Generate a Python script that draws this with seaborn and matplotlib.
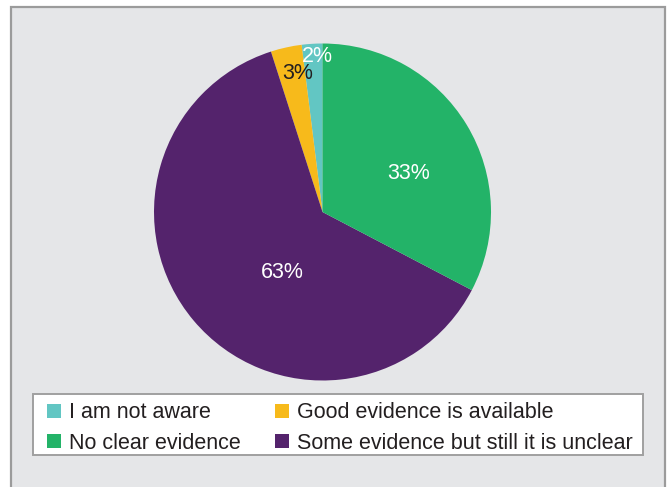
import matplotlib
matplotlib.use("Agg")
import matplotlib.pyplot as plt
from matplotlib.patches import Rectangle, Patch
import seaborn as sns

# Survey responses (percent)
categories = ["I am not aware", "Good evidence is available",
              "Some evidence but still it is unclear", "No clear evidence"]
shares = [2, 3, 63, 33]

sns.set_theme(style="white")
plt.rcParams["font.family"] = ["Liberation Sans", "DejaVu Sans"]

palette = {
    "I am not aware": "#62C6C3",
    "Good evidence is available": "#F7BA1B",
    "No clear evidence": "#23B368",
    "Some evidence but still it is unclear": "#54236C",
}
text_colors = ["white", "#231F20", "white", "white"]
# label anchor points in pie units (radius = 1)
label_xy = [(-0.03, 0.92), (-0.15, 0.82), (-0.24, -0.357), (0.51, 0.228)]

W, H = 667, 487
fig = plt.figure(figsize=(W / 100, H / 100), dpi=100, facecolor="white")

# grey panel with border
fig.patches.append(Rectangle((10.5 / W, -0.05), 654 / W, 1.05 - 7.5 / H,
                             transform=fig.transFigure, facecolor="#E5E6E8",
                             edgecolor="#9B9B9B", linewidth=1.6, zorder=-5))
# legend box
fig.patches.append(Rectangle((33 / W, 1 - 455 / H), 610 / W, 61 / H,
                             transform=fig.transFigure, facecolor="white",
                             edgecolor="#A0A0A0", linewidth=1.4, zorder=-4))

cx, cy, r = 322.5, 212, 168.5
ax = fig.add_axes([(cx - r) / W, 1 - (cy + r) / H, 2 * r / W, 2 * r / H])
ax.set_facecolor("none")
ax.set_zorder(2)

colors = [palette[c] for c in categories]
wedges, _ = ax.pie(shares, colors=colors, startangle=90, counterclock=True,
                   wedgeprops=dict(linewidth=0))
ax.set_xlim(-1, 1)
ax.set_ylim(-1, 1)
ax.set_aspect("equal")
ax.axis("off")

for v, (x, y), tc in zip(shares, label_xy, text_colors):
    ax.text(x, y, f"{v}%", ha="center", va="center", fontsize=15.5, color=tc)

# legend, filled row by row
order = ["I am not aware", "No clear evidence",
         "Good evidence is available", "Some evidence but still it is unclear"]
handles = [Patch(facecolor=palette[c], edgecolor="none", label=c) for c in order]
leg = fig.legend(handles=handles, ncol=2, loc="upper left",
                 bbox_to_anchor=(47 / W, 1 - 402.5 / H),
                 fontsize=15.5, frameon=False,
                 handlelength=0.65, handleheight=0.65, handletextpad=0.36,
                 columnspacing=1.62, labelspacing=0.43, borderpad=0,
                 borderaxespad=0, labelcolor="#231F20")
leg.set_zorder(3)

fig.savefig("out.png", dpi=100, facecolor="white")
